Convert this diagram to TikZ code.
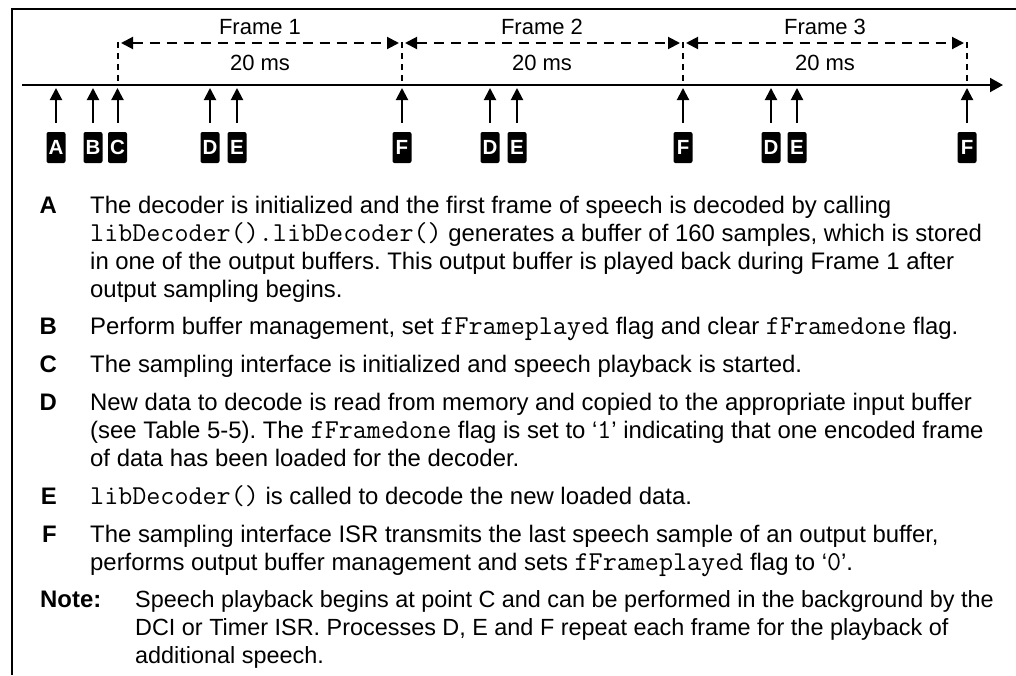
\documentclass[tikz,border=0pt]{standalone}
\usepackage{fontspec}
\setmainfont{Liberation Sans}
\usetikzlibrary{arrows.meta}
\frenchspacing
% code words in a typewriter face with Courier-like advance widths
\newcommand\code[1]{{\fontsize{27.3}{28}\selectfont\ttfamily #1}}

\begin{document}
\begin{tikzpicture}[x=1pt,y=-1pt,
  border/.style={line width=2pt},
  axis/.style={line width=2pt,-{Triangle[length=13pt,width=14pt]}},
  tick/.style={line width=2pt,dash pattern=on 6pt off 5pt},
  span/.style={line width=2pt,dash pattern=on 10pt off 7pt,
    {Triangle[length=12pt,width=12pt]}-{Triangle[length=12pt,width=12pt]},
    shorten <=3pt,shorten >=3pt},
  event/.style={line width=2pt,-{Triangle[length=12pt,width=12pt]},shorten >=3pt},
  tag/.style={fill=black,text=white,font=\bfseries\fontsize{20.5}{20.5}\selectfont,
    minimum width=19pt,minimum height=31pt,inner sep=0pt,rounded corners=2pt},
  timetext/.style={font=\fontsize{22}{22}\selectfont,inner sep=0pt},
  body/.style={anchor=base west,inner sep=0pt,font=\fontsize{23.9}{28}\selectfont},
  notebody/.style={anchor=base west,inner sep=0pt,font=\fontsize{23.4}{28}\selectfont},
  key/.style={anchor=base east,inner sep=0pt,font=\bfseries\fontsize{23.9}{28}\selectfont},
  notekey/.style={anchor=base west,inner sep=0pt,font=\bfseries\fontsize{23.9}{28}\selectfont}
]
\useasboundingbox (0,0) rectangle (1016,675);

% outer frame: top rule and left rule
\coordinate (topR) at (1016,8.5);
\coordinate (botL) at (12,675);
\draw[border] (topR) -| (botL);

% time axis
\coordinate (axL) at (22,85);
\coordinate (axR) at (1003,85);
\draw[axis] (axL) -- (axR);

% frame boundaries
\coordinate (b0) at (118,85);
\coordinate (b1) at (402,85);
\coordinate (b2) at (683,85);
\coordinate (b3) at (967,85);
\coordinate (h0) at (118,42);
\coordinate (h1) at (402,42);
\coordinate (h2) at (683,42);
\coordinate (h3) at (967,42);
\foreach \i in {0,1,2,3} \draw[tick] (h\i) -- (b\i);

% frame spans
\draw[span] ([yshift=-1pt]h0) -- ([yshift=-1pt]h1);
\draw[span] ([yshift=-1pt]h1) -- ([yshift=-1pt]h2);
\draw[span] ([yshift=-1pt]h2) -- ([yshift=-1pt]h3);

\node[timetext] (fr1) at (260,27) {Frame 1};
\node[timetext] (fr2) at (542,27) {Frame 2};
\node[timetext] (fr3) at (825,27) {Frame 3};
\node[timetext] (ms1) at (260,63) {20 ms};
\node[timetext] (ms2) at (542,63) {20 ms};
\node[timetext] (ms3) at (825,63) {20 ms};

% event tags and their arrows
\node[tag] (tA)  at (56,147.5)  {A};
\node[tag] (tB)  at (93,147.5)  {B};
\node[tag] (tC)  at (117.5,147.5) {C};
\node[tag] (tD1) at (210,147.5) {D};
\node[tag] (tE1) at (237,147.5) {E};
\node[tag] (tF1) at (402,147.5) {F};
\node[tag] (tD2) at (490,147.5) {D};
\node[tag] (tE2) at (517,147.5) {E};
\node[tag] (tF2) at (683,147.5) {F};
\node[tag] (tD3) at (771,147.5) {D};
\node[tag] (tE3) at (797,147.5) {E};
\node[tag] (tF3) at (967,147.5) {F};
\foreach \t in {tA,tB,tC,tD1,tE1,tF1,tD2,tE2,tF2,tD3,tE3,tF3}
  \draw[event] ([yshift=9pt]\t.north) -- (\t.north |- axL);

% legend
\node[key]  (kA)  at (57,213)   {A};
\node[body] (lA1) at (90,213)   {The decoder is initialized and the first frame of speech is decoded by calling};
\node[body] (lA2) at (90,241)   {\code{libDecoder().libDecoder()} generates a buffer of 160 samples, which is stored};
\node[body] (lA3) at (90,269)   {in one of the output buffers. This output buffer is played back during Frame 1 after};
\node[body] (lA4) at (90,297)   {output sampling begins.};

\node[key]  (kB)  at (57,334.8) {B};
\node[body] (lB1) at (90,334.8) {Perform buffer management, set \code{fFrameplayed} flag and clear \code{fFramedone} flag.};

\node[key]  (kC)  at (57,372.6) {C};
\node[body] (lC1) at (90,372.6) {The sampling interface is initialized and speech playback is started.};

\node[key]  (kD)  at (57,410.4) {D};
\node[body] (lD1) at (90,410.4) {New data to decode is read from memory and copied to the appropriate input buffer};
\node[body] (lD2) at (90,438.4) {(see Table 5-5). The \code{fFramedone} flag is set to ‘\code{1}’ indicating that one encoded frame};
\node[body] (lD3) at (90,466.4) {of data has been loaded for the decoder.};

\node[key]  (kE)  at (57,504.2) {E};
\node[body] (lE1) at (90,504.2) {\code{libDecoder()} is called to decode the new loaded data.};

\node[key]  (kF)  at (57,542)   {F};
\node[body] (lF1) at (90,542)   {The sampling interface ISR transmits the last speech sample of an output buffer,};
\node[body] (lF2) at (90,570)   {performs output buffer management and sets \code{fFrameplayed} flag to ‘\code{0}’.};

\node[notekey] (kN) at (40,607.8) {Note:};
\node[notebody] (lN1) at (135,607.8) {Speech playback begins at point C and can be performed in the background by the};
\node[notebody] (lN2) at (135,635.8) {DCI or Timer ISR. Processes D, E and F repeat each frame for the playback of};
\node[notebody] (lN3) at (135,663.8) {additional speech.};
\end{tikzpicture}
\end{document}
